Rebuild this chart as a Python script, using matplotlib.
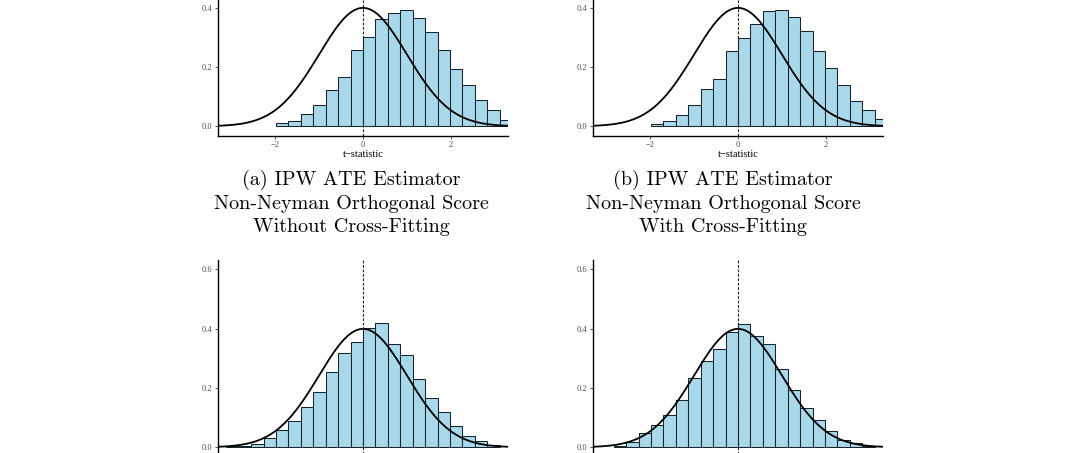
import numpy as np
import matplotlib.pyplot as plt

# histogram bin width (t-statistic units); bars start at first_bin * bin_width
bin_width = 0.283

# densities, left to right
first_a = -7
dens_a = [0.010, 0.017, 0.041, 0.071, 0.122, 0.166, 0.256, 0.301, 0.362, 0.382,
          0.392, 0.365, 0.318, 0.257, 0.194, 0.140, 0.089, 0.055, 0.021]
first_b = -7
dens_b = [0.007, 0.017, 0.037, 0.071, 0.125, 0.159, 0.255, 0.296, 0.345, 0.389,
          0.393, 0.368, 0.321, 0.252, 0.198, 0.139, 0.085, 0.054, 0.024]
first_c = -11
dens_c = [0.003, 0.006, 0.010, 0.031, 0.058, 0.090, 0.136, 0.187, 0.253, 0.317, 0.354,
          0.402, 0.418, 0.347, 0.310, 0.230, 0.165, 0.120, 0.073, 0.037, 0.020, 0.009]
first_d = -10
dens_d = [0.006, 0.019, 0.047, 0.074, 0.108, 0.158, 0.233, 0.290, 0.330, 0.388,
          0.415, 0.375, 0.347, 0.263, 0.192, 0.131, 0.091, 0.054, 0.024, 0.013, 0.004]

captions = [
    "(a) IPW ATE Estimator\nNon-Neyman Orthogonal Score\nWithout Cross-Fitting",
    "(b) IPW ATE Estimator\nNon-Neyman Orthogonal Score\nWith Cross-Fitting",
]
x_ticks = [-2, 0, 2]
x_tick_labels = ["\u22122", "0", "2"]
y_ticks = [0.0, 0.2, 0.4, 0.6]

W, H = 1066, 453
fig = plt.figure(figsize=(W / 100, H / 100), dpi=100)

def px_axes(left, top, right, bottom):
    return fig.add_axes([left / W, 1 - bottom / H, (right - left) / W, (bottom - top) / H])

tick_font = dict(family=["Liberation Serif", "DejaVu Serif"], size=6, color="#4d4d4d")

def draw_panel(ax, first, dens, show_x):
    lefts = (np.arange(len(dens)) + first) * bin_width
    ax.bar(lefts, dens, width=bin_width, align="edge", color="#a8d8ea",
           edgecolor="#16242c", linewidth=0.75)
    xs = np.linspace(-3.4, 3.4, 400)
    ax.plot(xs, np.exp(-xs ** 2 / 2) / np.sqrt(2 * np.pi), color="black", lw=1.3)
    ax.axvline(0, color="#222222", lw=0.8, ls=(0, (2.5, 1.5)))
    ax.set_xlim(-3.3, 3.3)
    ax.set_ylim(-0.031, 0.631)
    for s in ["top", "right"]:
        ax.spines[s].set_visible(False)
    for s in ["left", "bottom"]:
        ax.spines[s].set_linewidth(1.0)
    ax.set_yticks(y_ticks)
    ax.set_yticklabels([f"{v:.1f}" for v in y_ticks], **tick_font)
    ax.set_xticks(x_ticks)
    ax.tick_params(length=2.5, width=0.6, color="#333333", pad=1.5)
    if show_x:
        ax.set_xticklabels(x_tick_labels, **tick_font)
        ax.set_xlabel("t\u2212statistic", family=["Liberation Serif", "DejaVu Serif"],
                      size=7.5, labelpad=1)
    else:
        # below the picture's edge in the reference
        ax.set_xticklabels([])

ax_a = px_axes(218, -61, 508, 135.5)
ax_b = px_axes(593, -61, 883, 135.5)
ax_c = px_axes(218, 260, 508, 456.5)
ax_d = px_axes(593, 260, 883, 456.5)

draw_panel(ax_a, first_a, dens_a, True)
draw_panel(ax_b, first_b, dens_b, True)
draw_panel(ax_c, first_c, dens_c, False)
draw_panel(ax_d, first_d, dens_d, False)

for cx, text in zip([351, 723], captions):
    fig.text(cx / W, 1 - 170 / H, text, ha="center", va="top",
             family=["cmr10", "DejaVu Serif"], size=14.5, linespacing=1.36)

fig.savefig("out.png", dpi=100)
